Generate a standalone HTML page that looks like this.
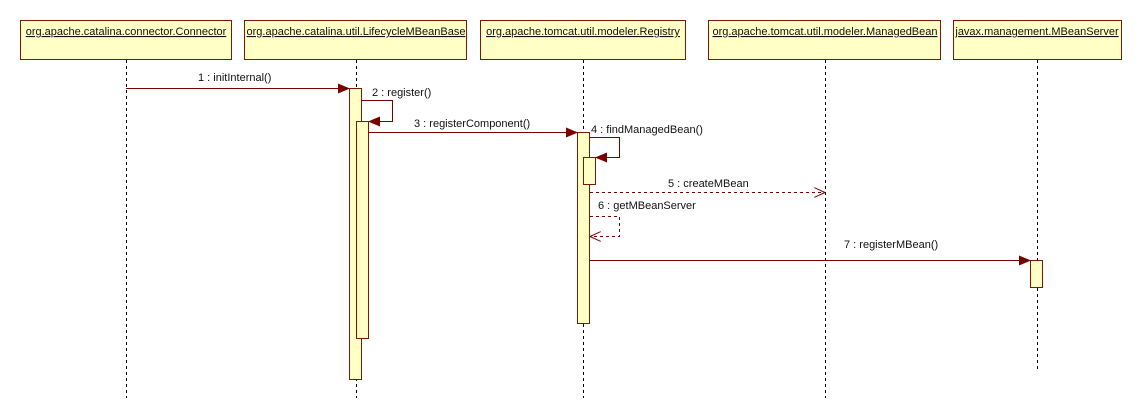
<!DOCTYPE html>
<html><head><meta charset="utf-8"><style>
html,body{margin:0;padding:0;background:#fff;}
svg{display:block;}
text{font-family:"Liberation Sans",sans-serif;font-size:11px;fill:#111;}
.h{text-decoration:underline;}
</style></head><body>
<svg width="1142" height="420" viewBox="0 0 1142 420" xmlns="http://www.w3.org/2000/svg">
<defs>
<marker id="f" markerWidth="12" markerHeight="10" refX="11" refY="5" orient="auto" markerUnits="userSpaceOnUse"><path d="M0,0 L12,5 L0,10 z" fill="#7a0000"/></marker>
<marker id="o" markerWidth="12" markerHeight="10" refX="11" refY="5" orient="auto" markerUnits="userSpaceOnUse"><path d="M0,0 L11,5 L0,10" fill="none" stroke="#7a0000" stroke-width="1"/></marker>
</defs>
<g fill="#ffffc6" stroke="#7a1a00" stroke-width="1">
<rect x="20.5" y="20.5" width="211" height="39"/>
<rect x="244.5" y="20.5" width="222" height="39"/>
<rect x="480.5" y="20.5" width="205" height="39"/>
<rect x="708.5" y="20.5" width="232" height="39"/>
<rect x="953.5" y="20.5" width="168" height="39"/>
</g>
<g text-anchor="middle">
<text class="h" x="126" y="35">org.apache.catalina.connector.Connector</text>
<text class="h" x="356" y="35">org.apache.catalina.util.LifecycleMBeanBase</text>
<text class="h" x="583" y="35">org.apache.tomcat.util.modeler.Registry</text>
<text class="h" x="825" y="35">org.apache.tomcat.util.modeler.ManagedBean</text>
<text class="h" x="1037" y="35">javax.management.MBeanServer</text>
</g>
<g stroke="#000" stroke-width="1" stroke-dasharray="3,3">
<line x1="126.5" y1="60" x2="126.5" y2="398"/>
<line x1="356.5" y1="60" x2="356.5" y2="398"/>
<line x1="583.5" y1="60" x2="583.5" y2="398"/>
<line x1="825.5" y1="60" x2="825.5" y2="398"/>
<line x1="1037.5" y1="60" x2="1037.5" y2="370"/>
</g>
<g fill="#ffffc6" stroke="#7a1a00" stroke-width="1">
<rect x="349.5" y="88.5" width="12" height="291"/>
<rect x="356.5" y="121.5" width="12" height="217"/>
<rect x="577.5" y="132.5" width="12" height="191"/>
<rect x="583.5" y="157.5" width="12" height="27"/>
<rect x="1030.5" y="260.5" width="12" height="27"/>
</g>
<g stroke="#7a0000" stroke-width="1" fill="none">
<line x1="126" y1="88.5" x2="349" y2="88.5" marker-end="url(#f)"/>
<polyline points="362,100.5 392.5,100.5 392.5,121.5 369,121.5" marker-end="url(#f)"/>
<line x1="369" y1="132.5" x2="577" y2="132.5" marker-end="url(#f)"/>
<polyline points="590,137.5 619.5,137.5 619.5,157.5 596,157.5" marker-end="url(#f)"/>
<line x1="590" y1="192.5" x2="825" y2="192.5" stroke-dasharray="3,3" marker-end="url(#o)"/>
<polyline points="590,216.5 619.5,216.5 619.5,236.5 590,236.5" stroke-dasharray="3,3" marker-end="url(#o)"/>
<line x1="590" y1="260.5" x2="1030" y2="260.5" marker-end="url(#f)"/>
</g>
<text x="198" y="81">1 : initInternal()</text>
<text x="372" y="96">2 : register()</text>
<text x="414" y="127">3 : registerComponent()</text>
<text x="591" y="133">4 : findManagedBean()</text>
<text x="668" y="187">5 : createMBean</text>
<text x="598" y="209">6 : getMBeanServer</text>
<text x="844" y="248">7 : registerMBean()</text>
</svg>
</body></html>
